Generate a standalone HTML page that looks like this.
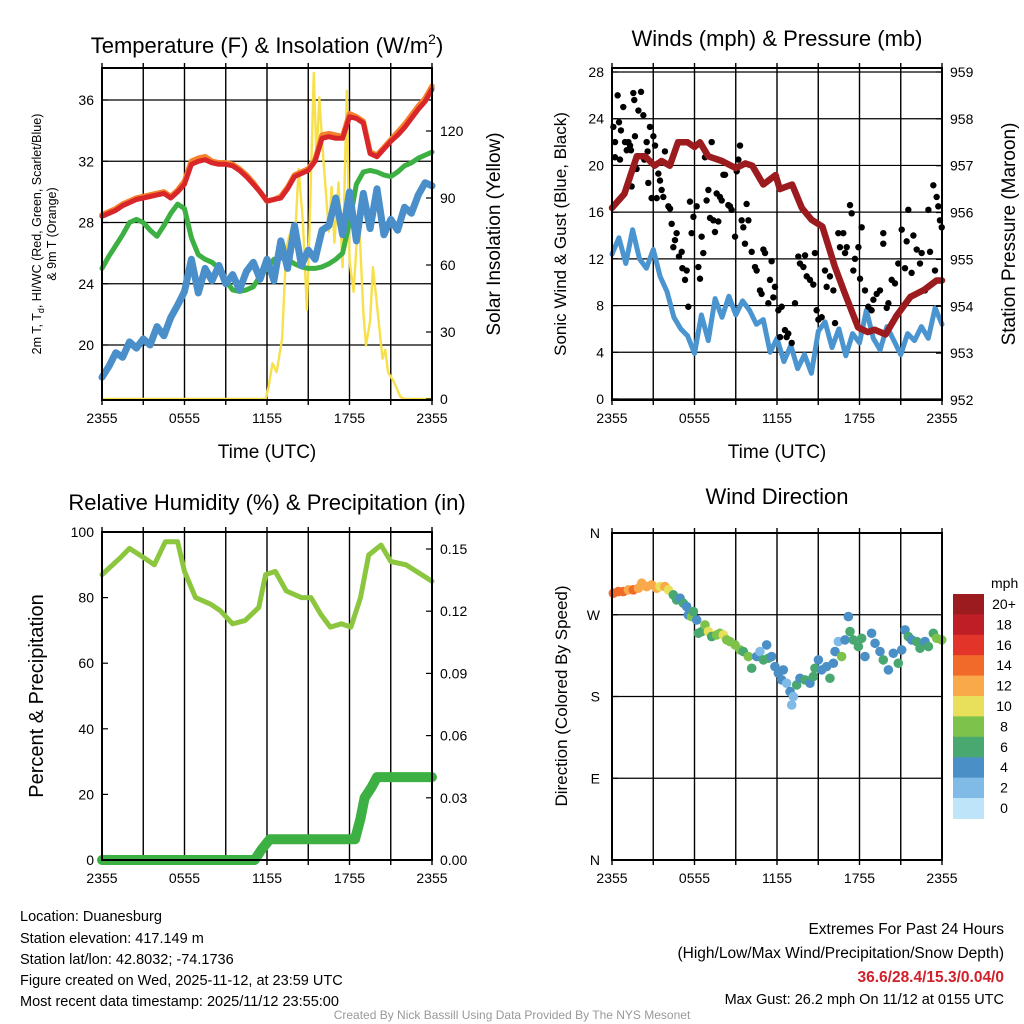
<!DOCTYPE html>
<html><head><meta charset="utf-8"><style>
html,body{margin:0;padding:0;background:#fff;}
svg{display:block;font-family:"Liberation Sans",sans-serif;}
</style></head><body>
<svg id="s" width="1024" height="1024" viewBox="0 0 1024 1024" xmlns="http://www.w3.org/2000/svg">
<rect width="1024" height="1024" fill="#fff"/>
<g id="grid"></g><g id="marks"></g><g id="axes"></g>
<text x="267" y="53" font-size="22" text-anchor="middle">Temperature (F) &amp; Insolation (W/m<tspan dy="-9" font-size="14">2</tspan><tspan dy="9">)</tspan></text>
<text x="777" y="46" font-size="22" text-anchor="middle">Winds (mph) &amp; Pressure (mb)</text>
<text x="267" y="510" font-size="22" text-anchor="middle">Relative Humidity (%) &amp; Precipitation (in)</text>
<text x="777" y="504" font-size="22" text-anchor="middle">Wind Direction</text>
<text x="267" y="458" font-size="19" text-anchor="middle">Time (UTC)</text>
<text x="777" y="458" font-size="19" text-anchor="middle">Time (UTC)</text>
<g font-size="12.5" text-anchor="middle">
<text transform="translate(41,234) rotate(-90)">2m T, T<tspan font-size="9" dy="3">d</tspan><tspan dy="-3">, HI/WC (Red, Green, Scarlet/Blue)</tspan></text>
<text transform="translate(56,234) rotate(-90)">&amp; 9m T (Orange)</text>
</g>
<text transform="translate(500,234) rotate(-90)" font-size="19" text-anchor="middle">Solar Insolation (Yellow)</text>
<text transform="translate(566,234) rotate(-90)" font-size="17" text-anchor="middle">Sonic Wind &amp; Gust (Blue, Black)</text>
<text transform="translate(1015,234) rotate(-90)" font-size="19" text-anchor="middle">Station Pressure (Maroon)</text>
<text transform="translate(43,696) rotate(-90)" font-size="20" text-anchor="middle">Percent &amp; Precipitation</text>
<text transform="translate(567,696) rotate(-90)" font-size="17" text-anchor="middle">Direction (Colored By Speed)</text>
<g font-size="14.5">
<text x="20" y="921">Location: Duanesburg</text>
<text x="20" y="943">Station elevation: 417.149 m</text>
<text x="20" y="964">Station lat/lon: 42.8032; -74.1736</text>
<text x="20" y="985">Figure created on Wed, 2025-11-12, at 23:59 UTC</text>
<text x="20" y="1006">Most recent data timestamp: 2025/11/12 23:55:00</text>
</g>
<g font-size="15.5" text-anchor="end">
<text x="1004" y="934">Extremes For Past 24 Hours</text>
<text x="1004" y="958">(High/Low/Max Wind/Precipitation/Snow Depth)</text>
<text x="1004" y="982" fill="#d0202a" font-weight="bold">36.6/28.4/15.3/0.04/0</text>
<text x="1004" y="1004" font-size="14.5">Max Gust: 26.2 mph On 11/12 at 0155 UTC</text>
</g>
<text x="512" y="1019" font-size="12" fill="#999" text-anchor="middle">Created By Nick Bassill Using Data Provided By The NYS Mesonet</text>
</svg>
<script>
// ---------- data ----------
const halfHours = [];for(let i=0;i<=48;i++)halfHours.push(i*0.5);
const tempRed=[28.4,28.6,28.8,29.1,29.3,29.5,29.6,29.7,29.8,29.9,29.6,30.0,30.5,31.8,32.0,32.1,31.9,31.8,31.8,31.7,31.4,31.0,30.5,30.0,29.4,29.5,29.6,30.2,31.0,31.2,31.4,32.0,33.5,33.6,33.5,33.5,34.9,34.8,34.5,32.5,32.3,32.8,33.3,33.7,34.2,34.8,35.4,35.9,36.7];
const tempOrange=[28.5,28.7,28.9,29.2,29.4,29.6,29.7,29.8,29.9,30.0,29.7,30.1,30.7,32.0,32.2,32.3,32.0,31.9,31.9,31.8,31.5,31.1,30.6,30.0,29.4,29.5,29.7,30.3,31.1,31.3,31.5,32.1,33.7,33.8,33.7,33.6,35.1,34.9,34.6,32.6,32.4,32.9,33.4,33.9,34.4,35.0,35.6,36.1,36.9];
const dewGreen=[25.0,25.8,26.5,27.2,28.0,28.2,28.0,27.5,27.1,27.8,28.6,29.2,28.9,27.0,25.9,25.6,25.4,25.0,24.2,23.6,23.5,23.6,23.8,24.5,25.0,25.6,25.7,25.6,25.3,25.1,25.0,25.0,25.1,25.3,25.6,26.0,28.0,30.5,31.3,31.4,31.3,31.1,31.0,31.3,31.7,31.9,32.2,32.4,32.6];
const windChillBlue=[17.9,18.6,19.5,19.2,20.2,19.8,20.4,20.0,21.2,20.6,21.8,22.6,23.5,25.6,23.4,25.0,24.2,25.2,24.0,24.6,23.6,24.8,25.4,24.3,25.6,24.2,26.8,25.0,27.8,25.2,26.2,25.6,27.5,27.8,29.6,27.2,30.0,26.8,29.9,27.6,30.2,27.2,28.2,27.5,29.0,28.6,29.8,30.6,30.4];
const solarT=[0,11.9,12.1,12.4,12.7,13.1,13.4,13.8,14.0,14.3,14.6,14.9,15.1,15.4,15.6,15.8,16.1,16.5,16.7,16.9,17.2,17.5,17.8,18.0,18.3,18.5,18.7,19.0,19.2,19.5,19.7,19.9,20.4,20.6,20.8,21.2,21.7,22.0,24];
const solarV=[0,0,5,16,12,27,68,77,68,103,80,40,77,146,107,135,107,75,95,70,97,59,138,62,48,68,80,39,24,35,59,48,18,22,12,8,1,0,0];
const windBlue=[12.4,13.8,11.6,14.5,12.0,11.2,12.8,10.5,9.2,7.0,6.0,5.4,3.9,7.2,5.0,8.6,7.0,8.8,7.2,8.4,7.6,6.4,6.8,4.0,5.2,3.2,4.6,2.6,3.8,2.2,5.8,6.6,4.4,6.0,3.7,5.6,4.8,7.6,5.2,4.2,6.2,5.0,3.8,5.6,5.0,6.2,5.2,7.8,6.4];
const gustT=[0.1,0.22,0.22,0.41,0.51,0.58,0.65,0.82,0.95,1.07,1.19,1.31,1.38,1.43,1.55,1.62,1.67,1.79,1.92,2.11,2.28,2.35,2.52,2.59,2.64,2.76,2.88,3.01,3.13,3.25,3.37,3.49,3.61,3.73,3.85,4.10,4.22,4.34,4.46,4.58,4.70,4.87,5.07,5.12,5.31,5.43,5.55,5.67,5.79,5.92,6.16,6.28,6.40,6.52,6.64,6.76,6.88,7.01,7.13,7.25,7.37,7.49,7.61,7.73,7.85,7.98,8.10,8.22,8.46,8.58,8.70,8.95,9.07,9.19,9.31,9.43,9.55,9.67,9.79,9.92,10.16,10.40,10.52,10.76,10.88,11.01,11.13,11.37,11.49,11.61,11.73,11.85,12.10,12.22,12.34,12.58,12.70,12.82,13.07,13.31,13.55,13.67,13.92,14.04,14.16,14.40,14.64,14.76,14.88,15.01,15.25,15.49,15.61,15.85,16.10,16.22,16.46,16.58,16.82,16.95,17.07,17.31,17.43,17.55,17.67,17.92,18.04,18.16,18.40,18.64,18.88,19.01,19.25,19.49,19.73,19.73,19.98,20.10,20.34,20.58,20.82,21.07,21.31,21.43,21.55,21.79,21.92,22.16,22.40,22.52,22.76,23.01,23.13,23.37,23.49,23.61,23.73,23.85,23.98];
const gustV=[23.3,22.0,20.7,26.0,23.7,20.5,23.0,25.0,22.0,21.3,22.0,21.7,21.3,18.2,26.2,25.6,22.5,19.7,24.7,26.3,24.3,20.5,22.0,21.2,18.5,23.3,17.2,22.5,21.7,17.2,19.3,18.7,17.9,17.3,21.2,16.5,16.3,15.0,13.0,13.6,14.2,12.2,12.6,11.2,10.2,11.0,7.9,16.9,14.2,15.6,16.5,11.3,10.3,13.9,12.5,20.7,17.0,17.9,15.5,22.0,15.3,14.3,17.6,15.2,17.3,17.0,19.2,19.2,16.6,16.5,16.2,13.9,19.5,20.5,21.7,15.3,14.7,13.3,16.7,15.3,12.6,11.3,11.0,9.3,9.0,12.8,12.5,8.2,10.2,11.8,8.7,9.6,7.6,5.3,7.9,5.9,5.3,5.6,4.8,8.2,12.2,11.6,11.3,12.3,10.5,10.2,9.8,12.5,7.6,6.8,7.0,11.0,9.6,10.5,9.3,6.5,14.2,13.0,14.2,12.5,13.0,16.6,15.9,11.0,12.0,13.0,10.3,14.7,9.3,7.9,7.6,8.5,9.0,9.3,13.3,14.2,7.8,8.2,10.2,9.9,11.6,14.5,11.2,13.5,16.2,10.8,14.0,12.8,11.6,12.5,9.3,16.2,12.6,18.3,11.0,17.3,16.5,15.3,14.7];
const presT=[0,0.9,1.8,2.4,3.1,3.6,4.2,4.8,5.5,6.0,6.4,7.0,8.0,9.0,9.7,10.2,11.0,11.9,12.2,13.1,13.8,14.5,15.3,16.2,16.9,17.9,18.6,19.1,19.9,20.7,21.7,22.7,23.6,24];
const presV=[956.1,956.4,957.2,957.2,957.0,957.1,957.0,957.5,957.5,957.4,957.5,957.2,957.1,956.95,957.05,957.0,956.6,956.8,956.5,956.6,956.1,955.85,955.7,954.85,954.3,953.55,953.45,953.5,953.4,953.8,954.2,954.35,954.55,954.55];
const rhT=[0,1.3,2.0,3.1,3.8,4.6,5.5,6.0,6.8,7.9,8.6,9.5,10.4,11.4,11.9,12.6,13.4,14.5,15.2,15.9,16.6,17.4,18.1,18.8,19.4,20.3,21.0,22.1,24];
const rhV=[87,92,95,92,90,97,97,88,80,78,76,72,73,77,87,88,82,80,80,75,71,72,71,80,93,96,91,90,85];
const precipT=[0,11.1,11.6,12.2,18.4,18.8,19.1,19.6,20.0,24];
const precipV=[0,0,0.005,0.01,0.01,0.02,0.03,0.035,0.04,0.04];
const dirT=[0.1,0.46,0.82,1.19,1.55,1.92,2.16,2.52,2.88,3.25,3.49,3.85,4.10,4.46,4.70,4.95,5.19,5.43,5.55,5.79,5.92,6.16,6.28,6.52,6.76,7.01,7.25,7.61,7.85,8.10,8.34,8.58,8.95,9.31,9.55,9.92,10.16,10.52,10.76,11.01,11.25,11.37,11.61,11.85,12.10,12.34,12.46,12.70,12.95,13.07,13.19,13.43,13.67,14.04,14.40,14.64,14.76,15.01,15.25,15.61,15.85,16.10,16.22,16.46,16.70,16.95,17.19,17.31,17.55,17.92,18.16,18.40,18.88,19.13,19.49,19.73,20.10,20.46,20.82,21.07,21.31,21.55,21.79,22.16,22.40,22.76,23.01,23.37,23.61,23.98];
const dirDeg=[293.7,295.5,295.5,297.4,297.4,299.2,304.7,301.0,302.9,299.2,301.0,301.0,297.4,291.9,286.4,288.2,282.7,279.0,269.8,268.0,273.5,264.3,249.6,251.5,258.8,251.5,246.0,247.8,249.6,247.8,242.3,240.5,236.8,231.3,229.5,224.0,211.1,224.0,229.5,220.3,236.8,222.1,224.0,212.9,205.6,198.3,209.3,194.6,185.4,170.7,179.9,192.7,200.1,198.3,194.6,201.9,211.1,220.3,209.3,212.9,200.1,216.6,229.5,240.5,224.0,242.3,268.0,251.5,242.3,235.0,244.1,224.0,249.6,238.6,229.5,220.3,209.3,227.6,216.6,231.3,253.3,246.0,242.3,240.5,233.1,240.5,235.0,249.6,244.1,242.3];
const dirSpd=[14,15,14,13,15,12,13,12,12,12,11,12,10,7,6,5,7,4,5,8,6,5,7,6,8,10,7,8,8,10,9,8,8,8,7,8,6,4,3,6,4,6,4,4,4,4,4,3,4,2,3,6,5,6,5,6,7,4,4,4,6,5,4,2,8,4,4,6,6,6,7,5,4,4,4,6,4,4,6,4,4,7,5,6,6,4,6,6,9,8];
const speedColors=["#bde4f8","#7fbbe6","#4a8fc6","#48a870","#7dc24b","#e8e05a","#f9a94a","#f26a2a","#e3342a","#c01e27","#9b1b1e"];
const speedLabels=["0","2","4","6","8","10","12","14","16","18","20+"];
const timeTicks=["2355","0555","1155","1755","2355"];
const tempTicks=[20,24,28,32,36];
const solarTicks=[0,30,60,90,120];
const windTicks=[0,4,8,12,16,20,24,28];
const presTicks=[952,953,954,955,956,957,958,959];
const rhTicks=[0,20,40,60,80,100];
const precipTicks=[0,0.03,0.06,0.09,0.12,0.15];
const dirTicks=["N","E","S","W","N"];

// ---------- helpers ----------
const NS="http://www.w3.org/2000/svg";
const G=document.getElementById('grid'),M=document.getElementById('marks'),A=document.getElementById('axes');
function mk(tag,attrs,parent){const e=document.createElementNS(NS,tag);for(const k in attrs)e.setAttribute(k,attrs[k]);parent.appendChild(e);return e;}
function scale(d0,d1,r0,r1){return v=>r0+(v-d0)*(r1-r0)/(d1-d0);}
function polyline(xs,ys,fx,fy,stroke,w,name){
  const pts=xs.map((t,i)=>fx(t).toFixed(1)+','+fy(ys[i]).toFixed(1)).join(' ');
  const e=mk('polyline',{points:pts,fill:'none',stroke:stroke,'stroke-width':w,'stroke-linejoin':'round','stroke-linecap':'round'},M);
  
  
  return e;
}
function frame(P,name){
  for(let h=0;h<=24;h+=3){const x=P.fx(h);const l=mk('line',{x1:x,x2:x,y1:P.y0-5,y2:P.y1+5,stroke:'#000','stroke-width':1.4},G);
    
    }
  const r=mk('rect',{x:P.x0,y:P.y0,width:P.x1-P.x0,height:P.y1-P.y0,fill:'none',stroke:'#000','stroke-width':2},A);
  
  
  timeTicks.forEach((lab,i)=>{const x=P.fx(i*6);const t=mk('text',{x:x,y:P.y1+23,'font-size':14,'text-anchor':'middle'},A);t.textContent=lab;
    
    });
}
function yTicks(P,ticks,fy,side,grid,fmt){
  ticks.forEach(v=>{const y=fy(v);
    if(grid){const l=mk('line',{x1:P.x0,x2:P.x1,y1:y,y2:y,stroke:'#000','stroke-width':1.2},G);
      
      }
    const x=side==='left'?P.x0:P.x1;
    mk('line',{x1:x,x2:side==='left'?x+6:x-6,y1:y,y2:y,stroke:'#000','stroke-width':1.2},A);
    const t=mk('text',{x:side==='left'?x-8:x+8,y:y+5,'font-size':14,'text-anchor':side==='left'?'end':'start'},A);
    t.textContent=fmt?fmt(v):v;
    
    });
}

// ---------- panel 1: temperature ----------
const P1={x0:102,x1:432,y0:68,y1:400};P1.fx=scale(0,24,P1.x0,P1.x1);
const fyT=scale(20,36,345,100), fyS=scale(0,120,399,131);
frame(P1,'temperature-panel');
yTicks(P1,tempTicks,fyT,'left',true);
yTicks(P1,solarTicks,fyS,'right',false);
polyline(solarT,solarV,P1.fx,v=>Math.max(70,fyS(v)),'#f7e04a',2.4,'solar-insolation-line');
polyline(halfHours,dewGreen,P1.fx,fyT,'#3cb043',5,'dewpoint-line');
polyline(halfHours,windChillBlue,P1.fx,fyT,'#4a8fc9',7,'windchill-line');
polyline(halfHours,tempOrange,P1.fx,fyT,'#f5822a',5.5,'temp-9m-line');
polyline(halfHours,tempRed,P1.fx,fyT,'#d8262b',5,'temp-2m-line');

// ---------- panel 2: wind ----------
const P2={x0:612,x1:942,y0:68,y1:400};P2.fx=scale(0,24,P2.x0,P2.x1);
const fyW=scale(0,28,399,72), fyP=scale(952,959,400,72);
frame(P2,'wind-panel');
yTicks(P2,windTicks,fyW,'left',true);
yTicks(P2,presTicks,fyP,'right',false);
polyline(halfHours,windBlue,P2.fx,fyW,'#4a94d0',5,'sonic-wind-line');
gustT.forEach((t,i)=>{const c=mk('circle',{cx:P2.fx(t),cy:fyW(gustV[i]),r:3.2,fill:'#000'},M);
  
  });
polyline(presT,presV,P2.fx,fyP,'#9b1b1e',6.5,'pressure-line');

// ---------- panel 3: humidity ----------
const P3={x0:102,x1:432,y0:532,y1:860};P3.fx=scale(0,24,P3.x0,P3.x1);
const fyR=scale(0,100,860,532), fyPr=scale(0,0.15,860,549);
frame(P3,'humidity-panel');
yTicks(P3,rhTicks,fyR,'left',false);
yTicks(P3,precipTicks,fyPr,'right',false,v=>v.toFixed(2));
polyline(rhT,rhV,P3.fx,fyR,'#8cc63f',5,'relative-humidity-line');
polyline(precipT,precipV,P3.fx,fyPr,'#3cb043',10,'precipitation-line');

// ---------- panel 4: direction ----------
const P4={x0:612,x1:942,y0:533,y1:860};P4.fx=scale(0,24,P4.x0,P4.x1);
const fyD=scale(0,360,860,533);
frame(P4,'direction-panel');
dirTicks.forEach((lab,i)=>{const y=fyD(i*90);
  if(i>0&&i<4){const l=mk('line',{x1:P4.x0,x2:P4.x1,y1:y,y2:y,stroke:'#000','stroke-width':1.2},G);
    
    }
  mk('line',{x1:P4.x0,x2:P4.x0+6,y1:y,y2:y,stroke:'#000','stroke-width':1.2},A);
  const t=mk('text',{x:P4.x0-12,y:y+5,'font-size':14,'text-anchor':'end'},A);t.textContent=lab;
  
  });
dirT.forEach((t,i)=>{const b=Math.min(10,Math.floor(dirSpd[i]/2));
  const c=mk('circle',{cx:P4.fx(t),cy:fyD(dirDeg[i]),r:4.8,fill:speedColors[b]},M);
  
  });
// colorbar
const cbTop=594,cbH=20.4;
const mt=mk('text',{x:991,y:588,'font-size':14},A);mt.textContent='mph';


speedLabels.forEach((lab,i)=>{const k=10-i;const y=cbTop+i*cbH;
  const r=mk('rect',{x:953,y:y,width:31,height:cbH+0.5,fill:speedColors[k]},A);
  
  
  const t=mk('text',{x:1004,y:y+15,'font-size':14,'text-anchor':'middle'},A);t.textContent=speedLabels[k];
  
  });
</script>
</body></html>
